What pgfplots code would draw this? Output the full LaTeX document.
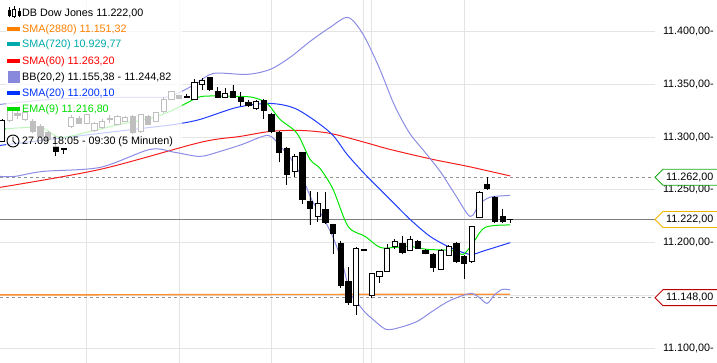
\documentclass[border=0pt]{standalone}
\usepackage{pgfplots}
\pgfplotsset{compat=1.18}
\usepgfplotslibrary{statistics}
\usepackage{fontspec}
\setmainfont{Liberation Sans}

\definecolor{cOrange}{RGB}{255,128,0}
\definecolor{cOrangeL}{RGB}{255,145,50}
\definecolor{cTeal}{RGB}{0,170,170}
\definecolor{cRed}{RGB}{255,0,0}
\definecolor{cRedL}{RGB}{245,30,30}
\definecolor{cLav}{RGB}{136,136,221}
\definecolor{cBB}{RGB}{140,140,230}
\definecolor{cBlue}{RGB}{0,51,255}
\definecolor{cBlueL}{RGB}{30,60,255}
\definecolor{cGreen}{RGB}{0,221,0}
\definecolor{cGreenL}{RGB}{0,230,0}
\definecolor{tagGreen}{RGB}{20,170,20}
\definecolor{tagYellow}{RGB}{240,180,0}
\definecolor{tagRed}{RGB}{190,0,0}
\definecolor{gridc}{RGB}{228,228,228}

\pgfplotsset{boxplot/draw direction=y}
% candle: #1 index, #2 body bottom, #3 body top, #4 low, #5 high
\newcommand\cu[5]{\addplot[draw=black, fill=white, line width=0.8bp, boxplot prepared={draw position=#1, lower whisker=#4, lower quartile=#2, median=#2, upper quartile=#3, upper whisker=#5, box extend=0.68, whisker extend=0}] coordinates {};}
\newcommand\cd[5]{\addplot[draw=black, fill=black, line width=0.8bp, boxplot prepared={draw position=#1, lower whisker=#4, lower quartile=#2, median=#2, upper quartile=#3, upper whisker=#5, box extend=0.68, whisker extend=0}] coordinates {};}
\newcommand\vg[1]{\addplot[gridc, line width=0.8bp] coordinates {(#1,11086.2) (#1,11429.7)};}
\newcommand\lf{\fontsize{10.8}{12}\selectfont}

\begin{document}
\begin{tikzpicture}
\path[use as bounding box] (0bp,0bp) rectangle (717bp,363bp);
\begin{axis}[
  at={(0bp,0bp)}, anchor=south west,
  scale only axis, width=655bp, height=363bp,
  xmin=-0.25, xmax=84.8, ymin=11086.2, ymax=11429.7,
  axis line style={draw=none},
  scaled x ticks=false, scaled y ticks=false,
  xtick=\empty,
  ytick={11100,11150,11200,11250,11300,11350,11400},
  yticklabels={{11.100,00-},{},{11.200,00-},{11.250,00-},{11.300,00-},{11.350,00-},{11.400,00-}},
  ymajorgrids,
  major grid style={draw=gridc, line width=0.8bp},
  major tick length=0pt,
  yticklabel pos=right,
  yticklabel style={anchor=west, xshift=4.5bp, font=\lf},
]
% vertical time grid (hour boundaries)
\vg{11}\vg{23}\vg{35}\vg{47}\vg{48}\vg{60}
% price levels
\addplot[gray!85, line width=0.8bp, dash pattern=on 3bp off 3bp] coordinates {(-0.25,11262) (84.3,11262)};
\addplot[gray!85, line width=0.8bp, dash pattern=on 3bp off 3bp] coordinates {(-0.25,11148) (84.3,11148)};
\addplot[gray, line width=0.9bp] coordinates {(-0.25,11222) (84.8,11222)};
% SMA(2880)
\addplot[cOrangeL, line width=1.4bp] coordinates {(-0.25,11150.6) (66,11151.3)};
% SMA(60)
\addplot[cRedL, line width=1bp, smooth] coordinates {(-0.25,11252.4) (12.74,11269.4) (25.73,11294.9) (30.92,11300.6) (34.82,11305.3) (38.71,11306.3) (42.61,11303.5) (47.16,11294.9) (50.4,11288.3) (55.99,11278.8) (60.53,11272.2) (66,11263.2)};
% BB upper
\addplot[cBB, line width=1bp, smooth] coordinates {(-0.25,11330.9) (6.25,11335.6) (12.74,11337.5) (19.23,11337.5) (21.83,11338.5) (25.08,11349.8) (27.42,11360.2) (31.83,11359.3) (34.82,11364.0) (37.41,11375.4) (40.01,11390.5) (42.61,11403.8) (44.95,11413.2) (46.9,11397.1) (48.97,11365.9) (50.92,11330.9) (52.87,11304.4) (54.95,11285.5) (56.9,11267.5) (58.84,11245.7) (60.79,11224.9) (61.96,11236.3) (63.0,11241.9) (63.9,11243.8) (66,11244.8)};
% BB lower
\addplot[cBB, line width=1bp, smooth] coordinates {(-0.25,11262.8) (1.7,11262.8) (5.34,11267.5) (12.74,11271.3) (19.23,11288.3) (22.48,11285.5) (25.73,11281.7) (28.32,11286.4) (31.18,11293.0) (34.56,11301.6) (36.12,11291.2) (37.41,11280.7) (38.97,11261.8) (40.4,11238.2) (41.7,11224.0) (43.0,11205.0) (44.17,11181.4) (45.21,11153.0) (46.12,11143.5) (47.16,11134.1) (48.19,11127.4) (49.88,11118.0) (51.7,11119.9) (53.91,11125.5) (55.86,11135.0) (57.94,11144.5) (59.88,11150.2) (61.05,11152.0) (61.96,11148.3) (63.0,11142.6) (63.9,11150.2) (64.94,11155.8) (66,11155.4)};
% SMA(20)
\addplot[cBlueL, line width=1bp, smooth] coordinates {(-0.25,11292.1) (6.25,11297.8) (12.74,11303.5) (19.23,11309.1) (22.48,11312.0) (25.73,11316.7) (30.53,11328.1) (34.82,11331.8) (38.32,11326.2) (42.61,11304.4) (44.82,11283.6) (47.16,11264.7) (50.4,11241.0) (53.0,11222.1) (55.6,11206.0) (58.19,11195.6) (60.79,11189.0) (62.74,11192.7) (66,11200.1)};
% EMA(9)
\addplot[cGreenL, line width=1bp, smooth] coordinates {(-0.25,11307.2) (4.95,11309.1) (7.55,11299.7) (11.44,11305.3) (15.34,11312.0) (19.23,11317.6) (21.83,11324.3) (24.17,11332.8) (25.99,11338.5) (30.53,11338.5) (32.61,11337.5) (34.43,11331.8) (36.12,11316.7) (38.32,11303.5) (40.01,11278.8) (41.31,11270.3) (43.0,11250.5) (44.95,11215.4) (47.16,11206.0) (49.1,11195.6) (51.05,11195.6) (53.0,11196.5) (55.2,11193.7) (58.45,11192.7) (59.88,11189.0) (61.05,11198.4) (62.74,11214.5) (66,11216.8)};
% candles
\cu{0}{11296}{11316}{11295}{11317}
\cu{1}{11316}{11326}{11314}{11328}
\cd{2}{11320.5}{11322}{11317}{11326}
\cu{3}{11317}{11323}{11315}{11325}
\cd{4}{11305}{11315}{11303.5}{11317}
\cd{5}{11301}{11310}{11299}{11312}
\cd{6}{11298}{11304}{11296}{11306}
\cd{7}{11286}{11291}{11282}{11293}
\cu{8}{11288}{11289}{11284}{11290}
\cu{9}{11310}{11319}{11309}{11320.5}
\cd{10}{11313}{11318}{11312}{11320}
\cu{11}{11313}{11321}{11312}{11322}
\cu{12}{11306}{11313}{11305}{11314}
\cu{13}{11309}{11315}{11308}{11317}
\cu{14}{11316.5}{11317.5}{11313}{11321}
\cu{15}{11312}{11320}{11311}{11321}
\cu{16}{11315}{11319}{11314}{11320}
\cd{17}{11304}{11320}{11302.5}{11321}
\cu{18}{11305}{11321}{11304}{11322}
\cd{19}{11312}{11320}{11311}{11321}
\cu{20}{11315}{11323}{11314}{11324}
\cu{21}{11324}{11336}{11323}{11338}
\cu{22}{11336}{11343}{11335}{11344}
\cd{23}{11337}{11339}{11336}{11340}
\cd{24}{11337.5}{11338.5}{11337}{11341}
\cu{25}{11336}{11352}{11335.5}{11355}
\cu{26}{11350}{11354}{11345}{11356}
\cd{27}{11345}{11356}{11344}{11357}
\cd{28}{11338}{11343}{11337.5}{11347}
\cu{29}{11337.5}{11341}{11337}{11346}
\cd{30}{11337.5}{11343}{11337}{11349}
\cd{31}{11334}{11338}{11329}{11343}
\cd{32}{11330}{11333}{11328}{11335}
\cu{33}{11327}{11334}{11326}{11335}
\cd{34}{11325}{11335}{11317}{11336}
\cd{35}{11305}{11321}{11303.5}{11323}
\cd{36}{11285.5}{11304}{11276}{11306}
\cd{37}{11265}{11289}{11255}{11291}
\cu{38}{11267.5}{11282}{11262}{11284}
\cd{39}{11241}{11285.5}{11237}{11286}
\cd{40}{11232.5}{11239}{11217}{11249}
\cu{41}{11225}{11237}{11220}{11248}
\cd{42}{11219}{11231.5}{11218.5}{11248}
\cd{43}{11209}{11217}{11189}{11218}
\cd{44}{11160}{11199}{11157}{11202}
\cd{45}{11143.5}{11163}{11141}{11177}
\cu{46}{11141}{11195}{11132}{11195.5}
\cd{47}{11193}{11193.5}{11192.5}{11194}
\cu{48}{11150}{11171}{11148}{11171.5}
\cu{49}{11168}{11173}{11161.5}{11173.5}
\cu{50}{11173}{11195}{11172}{11199}
\cu{51}{11196.5}{11201}{11194}{11204}
\cd{52}{11191}{11199}{11189}{11206}
\cu{53}{11193}{11203}{11192}{11206}
\cd{54}{11195}{11201}{11194}{11203}
\cd{55}{11190}{11193}{11189}{11194}
\cd{56}{11177}{11189}{11172}{11190}
\cu{57}{11175}{11193}{11174}{11194}
\cu{58}{11188}{11196.5}{11187}{11198}
\cd{59}{11182}{11199}{11181}{11201}
\cd{60}{11180}{11187}{11166}{11188}
\cu{61}{11182}{11215}{11181}{11216}
\cu{62}{11224}{11248}{11223}{11249}
\cd{63}{11251}{11255}{11250}{11262}
\cd{64}{11220}{11243}{11219.5}{11244}
\cd{65}{11220}{11225}{11219.5}{11231.5}
\cd{66}{11222}{11222.5}{11219}{11222.5}
\coordinate (hi) at (axis cs:84.8,11262);
\coordinate (cl) at (axis cs:84.8,11222);
\coordinate (lo) at (axis cs:84.8,11148);
\end{axis}
% legend background
\fill[white, opacity=0.75] (6bp,216bp) rectangle (182bp,363bp);
% candle icon
\draw[black, line width=0.8bp] (9bp,346bp) -- (9bp,356bp) (14bp,345bp) -- (14bp,357bp) (19bp,346bp) -- (19bp,355bp);
\filldraw[black] (8bp,348bp) rectangle (10bp,353bp);
\filldraw[draw=black, fill=white, line width=0.7bp] (12.8bp,347bp) rectangle (15.2bp,354bp);
\filldraw[black] (18bp,348bp) rectangle (20bp,352bp);
% legend lines
\fill[cOrange] (7bp,332bp) rectangle (20bp,336bp);
\fill[cTeal] (7bp,317bp) rectangle (20bp,321bp);
\fill[cRed] (7bp,300bp) rectangle (20bp,304bp);
\fill[cLav] (8bp,280bp) rectangle (20bp,292bp);
\fill[cBlue] (7bp,268bp) rectangle (20bp,272bp);
\fill[cGreen] (7bp,252bp) rectangle (20bp,256bp);
% clock
\draw[black, line width=0.9bp] (13bp,222bp) circle (6bp);
\draw[black, line width=0.9bp] (13bp,226bp) -- (13bp,222bp) -- (16bp,219bp);
% legend text
\node[anchor=base west, inner sep=0pt, font=\lf] at (22bp,346bp) {DB Dow Jones 11.222,00};
\node[anchor=base west, inner sep=0pt, font=\lf, text=cOrange] at (22bp,330bp) {SMA(2880) 11.151,32};
\node[anchor=base west, inner sep=0pt, font=\lf, text=cTeal] at (22bp,315bp) {SMA(720) 10.929,77};
\node[anchor=base west, inner sep=0pt, font=\lf, text=cRed] at (22bp,298bp) {SMA(60) 11.263,20};
\node[anchor=base west, inner sep=0pt, font=\lf] at (22bp,282bp) {BB(20,2) 11.155,38 - 11.244,82};
\node[anchor=base west, inner sep=0pt, font=\lf, text=cBlue] at (22bp,266bp) {SMA(20) 11.200,10};
\node[anchor=base west, inner sep=0pt, font=\lf, text=cGreen] at (22bp,250bp) {EMA(9) 11.216,80};
\node[anchor=base west, inner sep=0pt, font=\lf] at (22bp,218bp) {27.09 18:05 - 09:30 (5 Minuten)};
% price tags
\filldraw[draw=tagGreen, fill=white, line width=0.9bp] (hi) -- ++(8bp,8bp) -- ++(56bp,0bp) -- ++(0bp,-16bp) -- ++(-56bp,0bp) -- cycle;
\node[anchor=west, inner sep=0pt, font=\lf] at ([xshift=11bp]hi) {11.262,00};
\filldraw[draw=tagYellow, fill=white, line width=0.9bp] (cl) -- ++(8bp,8bp) -- ++(56bp,0bp) -- ++(0bp,-16bp) -- ++(-56bp,0bp) -- cycle;
\node[anchor=west, inner sep=0pt, font=\lf] at ([xshift=11bp]cl) {11.222,00};
\filldraw[draw=tagRed, fill=white, line width=0.9bp] (lo) -- ++(8bp,8bp) -- ++(56bp,0bp) -- ++(0bp,-16bp) -- ++(-56bp,0bp) -- cycle;
\node[anchor=west, inner sep=0pt, font=\lf] at ([xshift=11bp]lo) {11.148,00};
\end{tikzpicture}
\end{document}
